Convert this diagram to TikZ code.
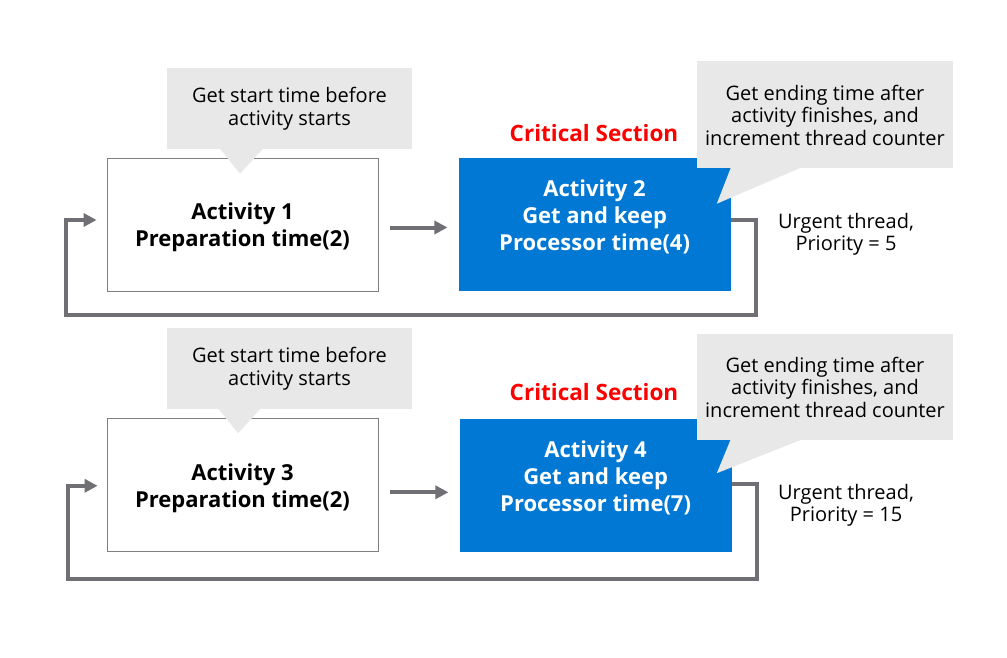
\documentclass[tikz,border=0pt]{standalone}
\usepackage{fontspec}
\setmainfont{Open Sans}
\usetikzlibrary{positioning,arrows.meta,calc}
\definecolor{boxgray}{RGB}{127,127,127}
\definecolor{arrowgray}{RGB}{112,112,116}
\definecolor{notegray}{RGB}{232,232,232}
\definecolor{actblue}{RGB}{0,120,212}
\definecolor{critred}{RGB}{255,0,0}

\begin{document}
\begin{tikzpicture}[x=1pt,y=-1pt,
actbox/.style={draw=boxgray, line width=0.8pt, minimum width=271pt, minimum height=133pt, align=center, text depth=0pt, font=\fontsize{22}{27}\selectfont\bfseries},
critbox/.style={fill=actblue, text=white, minimum width=272pt, minimum height=133pt, align=center, text depth=19pt, font=\fontsize{22}{27}\selectfont\bfseries},
notebox/.style={fill=notegray, align=center, font=\fontsize{20}{22.5}\selectfont},
critlbl/.style={text=critred, font=\fontsize{22.5}{27}\selectfont\bfseries},
urgent/.style={align=center, font=\fontsize{20}{22}\selectfont},
flow/.style={draw=arrowgray, line width=4pt, -{Triangle[length=13pt,width=13pt]}},
]
\fill[white] (0,0) rectangle (1007,658);
\useasboundingbox (0,0) rectangle (1007,658);

% urgent thread, priority 5
\node[actbox] (act1) at (242.5,224.5) {Activity 1\\Preparation time(2)};
\node[critbox, right=80pt of act1] (act2) {Activity 2\\Get and keep\\Processor time(4)};
\draw[flow, shorten <=12pt, shorten >=11pt] ([yshift=-3pt]act1.east) -- ([yshift=-3pt]act2.west);
\node[critlbl] (crit1) at (594,133) {Critical Section};
\node[urgent] (urg1) at (846,234) {Urgent thread,\\Priority = 5};

% thread loops back
\coordinate (r1) at (756,315);
\coordinate (l1) at (66,315);
\draw[flow] ([yshift=4.5pt]act2.east) -| (r1) -- (l1) |- ([xshift=-10pt,yshift=4.5pt]act1.west);

% timing notes
\node[notebox, minimum width=245pt, minimum height=81pt] (note1) at (289.5,109) {Get start time before\\activity starts};
\fill[notegray] ($(note1.south)+(-69.5,-1)$) -- ($(note1.south)+(-26.5,-1)$) -- ($(note1.south)+(-49.5,24)$) -- cycle;
\node[notebox, minimum width=256pt, minimum height=107pt] (note2) at (825,115) {Get ending time after\\activity finishes, and\\increment thread counter};
\fill[notegray] ($(note2.south west)+(34,-1)$) -- ($(note2.south west)+(104,-1)$) -- ($(note2.south west)+(20,35)$) -- cycle;

%%% Next thread
% urgent thread, priority 15
\node[actbox, below=127pt of act1] (act3) {Activity 3\\Preparation time(2)};
\node[critbox, right=81pt of act3] (act4) {Activity 4\\Get and keep\\Processor time(7)};
\draw[flow, shorten <=12pt, shorten >=11pt] ([yshift=-7pt]act3.east) -- ([yshift=-7pt]act4.west);
\node[critlbl] (crit2) at (594,392) {Critical Section};
\node[urgent] (urg2) at (846,505.5) {Urgent thread,\\Priority = 15};

\coordinate (r2) at (757,579);
\coordinate (l2) at (68,579);
\draw[flow] ([yshift=1.5pt]act4.east) -| (r2) -- (l2) |- ([xshift=-9pt,yshift=-0.5pt]act3.west);

\node[notebox, minimum width=245pt, minimum height=81pt] (note3) at (289.5,368.5) {Get start time before\\activity starts};
\fill[notegray] ($(note3.south)+(-71.5,-1)$) -- ($(note3.south)+(-28.5,-1)$) -- ($(note3.south)+(-51.5,24)$) -- cycle;
\node[notebox, minimum width=256pt, minimum height=106pt] (note4) at (825,387) {Get ending time after\\activity finishes, and\\increment thread counter};
\fill[notegray] ($(note4.south west)+(34,-1)$) -- ($(note4.south west)+(106,-1)$) -- ($(note4.south west)+(20,33)$) -- cycle;
\end{tikzpicture}
\end{document}
